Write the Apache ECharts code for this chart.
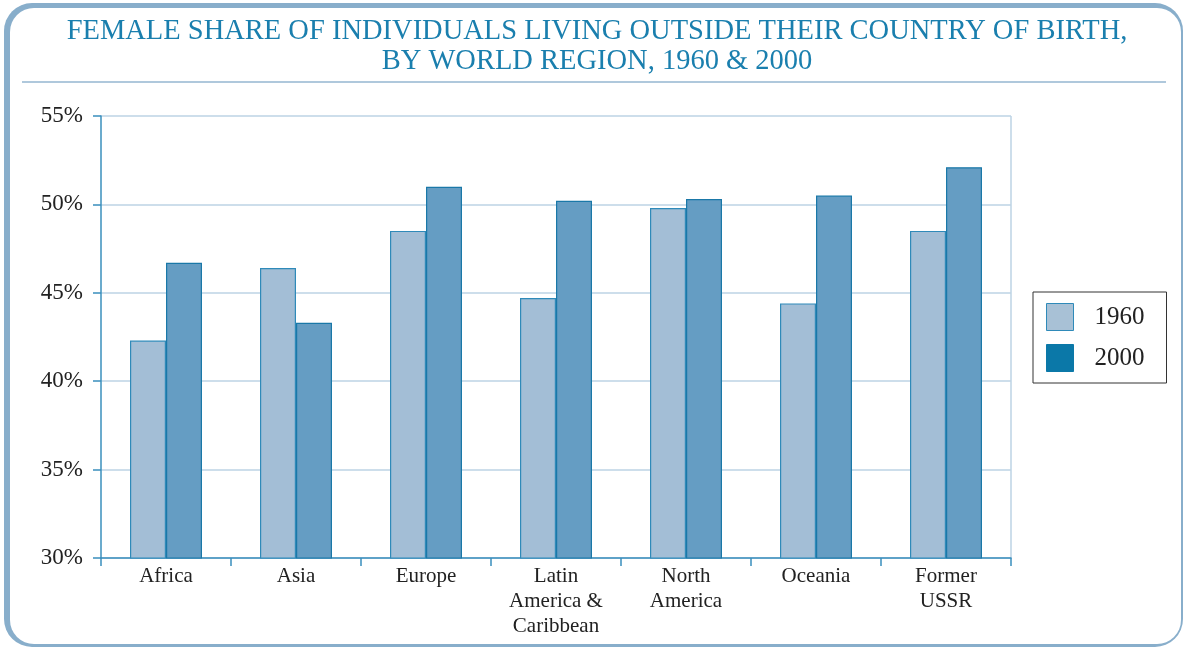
<!DOCTYPE html>
<html>
<head>
<meta charset="utf-8">
<script src="https://cdn.jsdelivr.net/npm/echarts@6/dist/echarts.min.js"></script>
<style>
  html, body { margin: 0; padding: 0; background: #fff; }
  #chart { width: 1183px; height: 647px; }
</style>
</head>
<body>
<div id="chart"></div>
<script>
// data
const regions = ['Africa', 'Asia', 'Europe', 'Latin\nAmerica &\nCaribbean', 'North\nAmerica', 'Oceania', 'Former\nUSSR']
const share1960 = [42.3, 46.4, 48.5, 44.7, 49.8, 44.4, 48.5]
const share2000 = [46.7, 43.3, 51.0, 50.2, 50.3, 50.5, 52.1]
const yTicks = [30, 35, 40, 45, 50, 55]

const serif = '"Liberation Serif", "DejaVu Serif", serif'
const chart = echarts.init(document.getElementById('chart'))

const option = {
  animation: false,
  graphic: [
    // rounded frame: outer coloured shape, inner white shape
    {
      type: 'rect', z: -10, silent: true,
      shape: { x: 4, y: 3, width: 1179, height: 644, r: 28 },
      style: { fill: '#88aecb' }
    },
    {
      type: 'rect', z: -9, silent: true,
      shape: { x: 10, y: 8, width: 1171, height: 636, r: 24 },
      style: { fill: '#ffffff' }
    },
    {
      type: 'line', silent: true,
      shape: { x1: 22, y1: 82, x2: 1166, y2: 82 },
      style: { stroke: '#afc8dc', lineWidth: 2 }
    },
    // right edge of the plot area
    {
      type: 'line', silent: true,
      shape: { x1: 1011, y1: 116, x2: 1011, y2: 558 },
      style: { stroke: '#bcd3e5', lineWidth: 1.5 }
    }
  ],
  title: {
    text: 'FEMALE SHARE OF INDIVIDUALS LIVING OUTSIDE THEIR COUNTRY OF BIRTH,\nBY WORLD REGION, 1960 & 2000',
    left: 592,
    top: 12,
    textAlign: 'center',
    textStyle: {
      fontFamily: serif,
      fontWeight: 'normal',
      fontSize: 28.5,
      lineHeight: 30,
      color: '#1a7fae'
    }
  },
  legend: {
    orient: 'vertical',
    left: 1033,
    top: 292,
    padding: [11, 22, 11, 13],
    icon: 'rect',
    itemWidth: 27,
    itemHeight: 27,
    itemGap: 13,
    borderColor: '#333',
    borderWidth: 1,
    textStyle: { fontFamily: serif, fontSize: 25, color: '#222', padding: [0, 0, 0, 16] },
    data: [
      { name: '1960', itemStyle: { color: '#a8c1d6', borderColor: '#2f8ab9', borderWidth: 1 } },
      { name: '2000', itemStyle: { color: '#0b78a8', borderColor: '#0b78a8', borderWidth: 1 } }
    ]
  },
  grid: { left: 101, right: 172, top: 116, bottom: 89 },
  xAxis: {
    type: 'category',
    data: regions,
    axisLine: { lineStyle: { color: '#3a8fbd', width: 1.5 } },
    axisTick: { show: true, length: 8, lineStyle: { color: '#3a8fbd', width: 1.5 } },
    axisLabel: {
      fontFamily: serif,
      fontSize: 21,
      lineHeight: 25,
      color: '#222',
      margin: 6
    },
    splitLine: { show: false }
  },
  yAxis: {
    type: 'value',
    min: 30,
    max: 55,
    interval: 5,
    axisLine: { show: true, lineStyle: { color: '#3a8fbd', width: 1.5 } },
    axisTick: { show: true, length: 8, lineStyle: { color: '#3a8fbd', width: 1.5 } },
    axisLabel: {
      fontFamily: serif,
      fontSize: 23,
      color: '#222',
      margin: 18,
      formatter: v => (yTicks.includes(v) ? v + '%' : '')
    },
    splitLine: { show: true, lineStyle: { color: '#bcd3e5', width: 1.5 } }
  },
  series: [
    {
      name: '1960',
      type: 'bar',
      data: share1960,
      barWidth: 36,
      barGap: '0%',
      itemStyle: { color: '#a3bed6', borderColor: '#2f8ab9', borderWidth: 1.2 }
    },
    {
      name: '2000',
      type: 'bar',
      data: share2000,
      barWidth: 36,
      itemStyle: { color: '#659dc3', borderColor: '#1a78a8', borderWidth: 1.2 }
    }
  ]
}

chart.setOption(option)
</script>
</body>
</html>
